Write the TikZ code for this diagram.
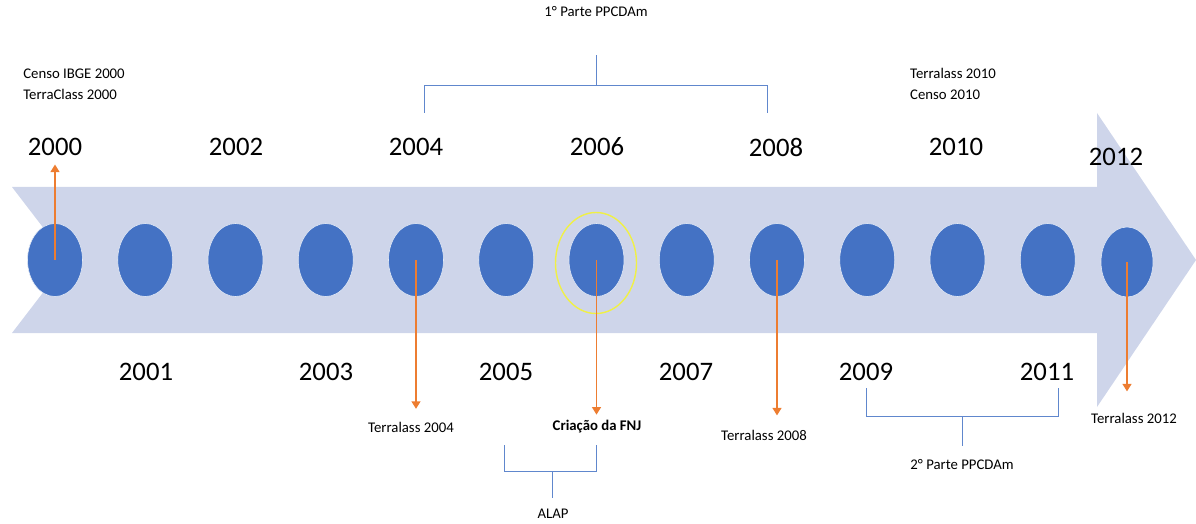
\documentclass[tikz,border=0pt]{standalone}
\usepackage{fontspec}
\setmainfont{Carlito}
\usepackage{tikz}
\usetikzlibrary{positioning,arrows.meta,shapes.geometric}
\definecolor{bandblue}{RGB}{206,213,234}
\definecolor{dotblue}{RGB}{68,114,196}
\definecolor{evorange}{RGB}{237,125,49}
\definecolor{ringyellow}{RGB}{240,240,70}
\tikzset{
    year dot/.style={
        ellipse,draw=white!85!dotblue,thin,
        fill=dotblue,
        minimum width=1.375cm,minimum height=1.825cm,
        inner sep=0pt
    },
    >={[scale=0.8]Triangle},
    year label/.style={font=\fontsize{19}{22}\selectfont,inner sep=1pt},
    event/.style={font=\fontsize{10.5}{15}\selectfont,inner sep=1pt,align=left},
    event arrow/.style={evorange,line width=1.4pt,->},
    span/.style={dotblue!85!white,line width=0.7pt},
}

\begin{document}
\begin{tikzpicture}[x=0.025cm,y=-0.025cm]
		\useasboundingbox (0,0) rectangle (1196,524);
		% band with arrow head
		\fill[bandblue] (12,187) -- (1097,187) -- (1097,113) -- (1196,260) -- (1097,407)
			-- (1097,333) -- (12,333) -- (68,260) -- cycle;

		\foreach \yr [count=\i from 0] in {2000,...,2011}
		\node[year dot] (c\yr) at ({55+90.25*\i},260) {};
		\node[year dot,minimum width=1.3cm,minimum height=1.75cm] (c2012) at (1127,262) {};
		\node[ellipse,draw=ringyellow,line width=1pt,minimum width=2.025cm,minimum height=2.525cm] (ring) at (596,263) {};

		\foreach \yr/\x in {2000/55,2002/236,2004/416,2006/597,2008/776,2010/956}
		\node[year label] (y\yr) at (\x,147) {\yr};
		\node[year label] (y2012) at (1116,157) {2012};
		\foreach \yr/\x in {2001/146,2003/326,2005/506,2007/686,2009/866,2011/1047}
		\node[year label] (y\yr) at (\x,372) {\yr};

		\node[event] (e2000) at (74,84) {Censo IBGE 2000\\TerraClass 2000};
		\node[event] (e2010) at (953,84) {Terralass 2010\\Censo 2010};
		\node[event] (e2004) at (411,427) {Terralass 2004};
		\node[event,font=\fontsize{10.5}{15}\selectfont\bfseries] (e2006) at (597,427) {Criação da FNJ};
		\node[event] (e2008) at (764,435) {Terralass 2008};
		\node[event] (e2012) at (1134,418) {Terralass 2012};
		\node[event] (part1) at (596,12) {1° Parte PPCDAm};
		\node[event] (part2) at (962,465) {2° Parte PPCDAm};
		\node[event] (alap) at (553,514) {ALAP};

		\draw[event arrow,shorten >=5pt] (c2000.center) -- (y2000.south);
		\draw[event arrow,shorten >=8pt] (c2004.center) -- (c2004 |- e2004.north);
		\draw[event arrow,shorten >=3pt] (c2006.center) -- (c2006 |- e2006.north);
		\draw[event arrow,shorten >=9pt] (c2008.center) -- (c2008 |- e2008.north);
		\draw[event arrow,shorten >=14pt] (c2012.center) -- (c2012 |- e2012.north);

		\draw[span] (424,113) |- (767,85) -- (767,113);
		\draw[span] (596,85) -- (596,55);
		\draw[span] (504,445) |- (596,471) -- (596,445);
		\draw[span] (552,471) -- (552,498);
		\draw[span] (866,388) |- (1058,416) -- (1058,388);
		\draw[span] (962,416) -- (962,446);
	\end{tikzpicture}
\end{document}
